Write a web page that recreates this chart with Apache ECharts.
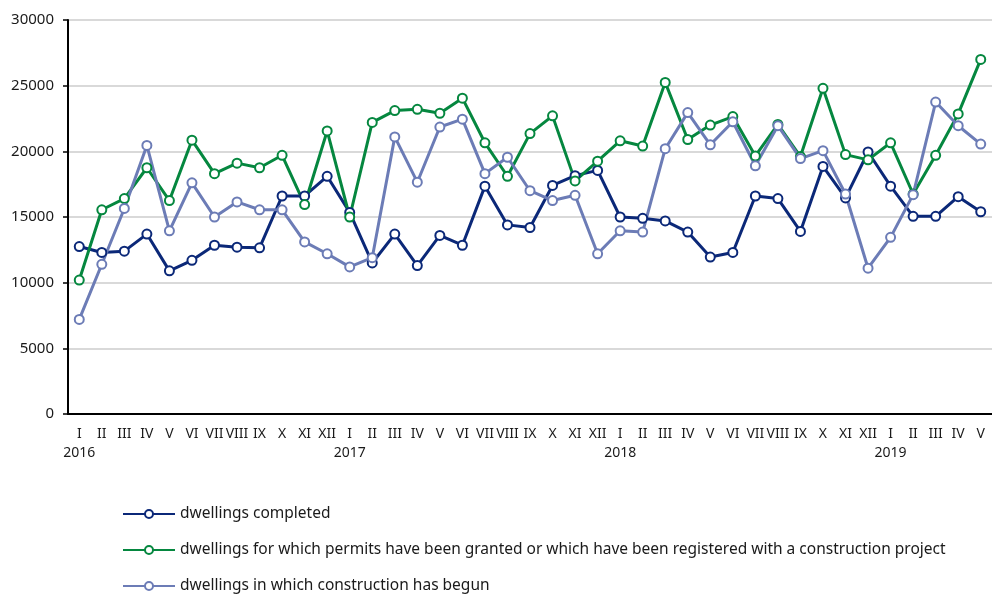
<!DOCTYPE html>
<html>
<head>
<meta charset="utf-8">
<script src="https://cdn.jsdelivr.net/npm/echarts@6/dist/echarts.min.js"></script>
<style>html,body{margin:0;padding:0;background:#fff}#c{width:992px;height:594px}</style>
</head>
<body>
<div id="c"></div>
<script>
const months = ['I','II','III','IV','V','VI','VII','VIII','IX','X','XI','XII',
  'I','II','III','IV','V','VI','VII','VIII','IX','X','XI','XII',
  'I','II','III','IV','V','VI','VII','VIII','IX','X','XI','XII',
  'I','II','III','IV','V'];
const yearLabels = {0:'2016',12:'2017',24:'2018',36:'2019'};
const seriesNames = ['dwellings completed',
  'dwellings for which permits have been granted or which have been registered with a construction project',
  'dwellings in which construction has begun'];
const completed = [12750,12300,12400,13700,10900,11700,12850,12700,12650,16600,16600,18100,
  15350,11500,13700,11300,13600,12850,17350,14400,14200,17400,18150,18550,
  15000,14900,14700,13850,11950,12300,16600,16400,13900,18850,16450,19950,
  17350,15050,15050,16550,15400];
const permits = [10200,15550,16400,18750,16250,20850,18300,19100,18750,19700,15950,21550,
  15000,22200,23100,23200,22900,24050,20650,18100,21350,22700,17750,19250,
  20800,20400,25250,20900,22000,22650,19650,22050,19600,24800,19750,19350,
  20650,16750,19700,22850,27000];
const begun = [7200,11400,15650,20450,13950,17600,15000,16150,15550,15550,13100,12200,
  11200,11900,21100,17650,21850,22450,18300,19550,17000,16250,16650,12200,
  13950,13850,20200,22950,20500,22250,18900,21950,19450,20050,16750,11100,
  13450,16700,23750,21950,20550];
const yTicks = [0,5000,10000,15000,20000,25000,30000];

const colors = ['#0b2878','#05873f','#6c7cb6'];
const chart = echarts.init(document.getElementById('c'));
const mk = (name, data, color) => ({
  name, type:'line', data,
  symbol:'circle', symbolSize:9,
  lineStyle:{width:3,color},
  itemStyle:{color:'#fff',borderColor:color,borderWidth:2},
  emphasis:{disabled:true},
  animation:false
});
const legendTops = [501, 537, 573];
chart.setOption({
  animation:false,
  color: colors,
  grid:{left:68, top:20, width:932.75, bottom:180, containLabel:false},
  xAxis:{
    type:'category', data: months, boundaryGap:true,
    axisLine:{lineStyle:{color:'#000',width:2}},
    axisTick:{show:false},
    axisLabel:{interval:0, margin:11, fontFamily:'Noto Sans', fontSize:14, color:'#1a1a1a', lineHeight:19,
      formatter:(v,i)=> yearLabels[i] ? v + '\n' + yearLabels[i] : v}
  },
  yAxis:{
    type:'value', min:0, max:30000, interval:5000,
    axisLine:{show:true, lineStyle:{color:'#000',width:2}},
    axisTick:{show:true, length:5, lineStyle:{color:'#000',width:1.5}},
    axisLabel:{margin:14, fontFamily:'Noto Sans', fontSize:15, color:'#1a1a1a',
      formatter:v=> yTicks.includes(v) ? String(v) : ''},
    splitLine:{lineStyle:{color:'#d9d9d9',width:2}}
  },
  legend: seriesNames.map((n,i)=>({
    orient:'vertical', left:117, top:legendTops[i], itemWidth:52, itemHeight:10, padding:5,
    textStyle:{fontFamily:'Noto Sans', fontSize:15.5, color:'#1a1a1a'},
    data:[n]
  })),
  series:[mk(seriesNames[0],completed,colors[0]), mk(seriesNames[1],permits,colors[1]), mk(seriesNames[2],begun,colors[2])]
});
</script>
</body>
</html>
